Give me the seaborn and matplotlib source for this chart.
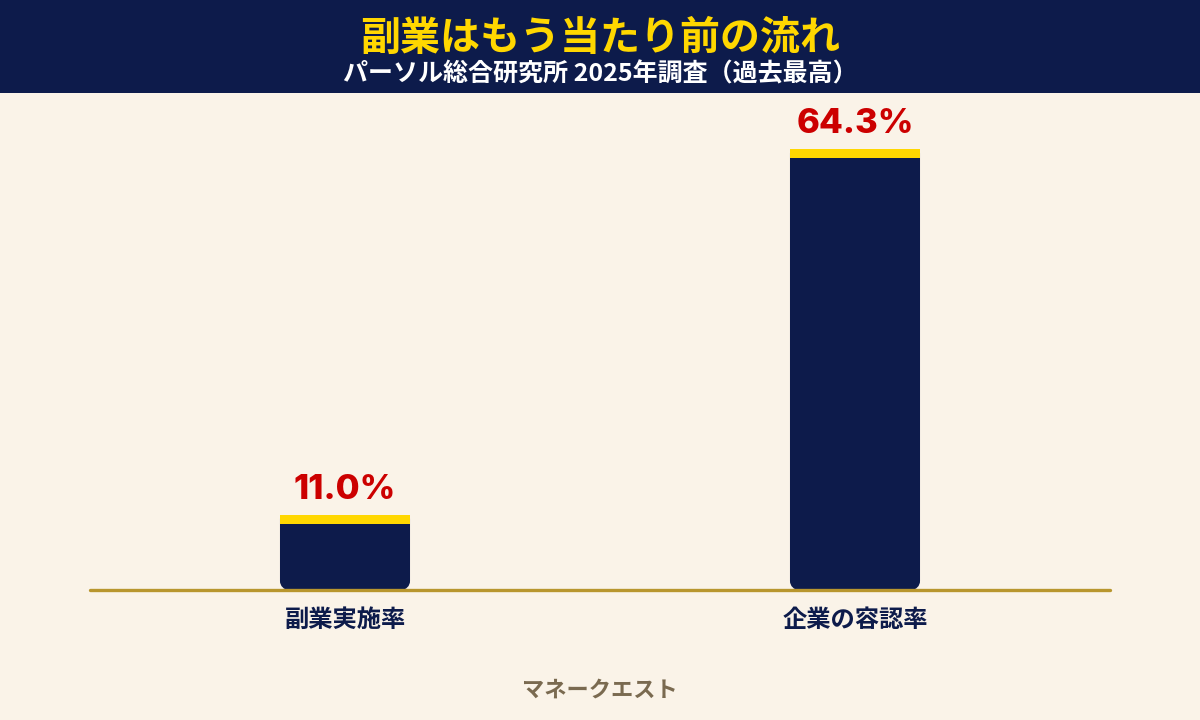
import matplotlib
matplotlib.use('Agg')
import matplotlib.pyplot as plt
import seaborn as sns
import pandas as pd
from matplotlib.path import Path
from matplotlib.patches import PathPatch, Rectangle

# データ
categories = ['副業実施率', '企業の容認率']
values = [11.0, 64.3]
value_labels = ['11.0%', '64.3%']

title = '副業はもう当たり前の流れ'
subtitle = 'パーソル総合研究所 2025年調査（過去最高）'
source = 'マネークエスト'

navy = '#0d1b4b'
yellow = '#ffd700'
bg = '#faf3e8'
red = '#cc0000'
gold = '#b8962e'
brown = '#7a6a50'

sns.set_theme(style='white')
plt.rcParams['font.family'] = ['Noto Sans CJK JP', 'DejaVu Sans']

df = pd.DataFrame({'category': categories, 'value': values})

fig = plt.figure(figsize=(12, 7.2), dpi=100, facecolor=bg)

# ヘッダー帯
fig.patches.append(Rectangle((0, 1 - 93 / 720), 1, 93 / 720, transform=fig.transFigure,
                             facecolor=navy, edgecolor='none', zorder=0))
fig.text(0.5, 1 - 38 / 720, title, ha='center', va='center', color=yellow,
         fontsize=28.8, fontweight='bold')
fig.text(0.5, 1 - 74 / 720, subtitle, ha='center', va='center', color='white',
         fontsize=18, fontweight='bold')

ax = fig.add_axes([90 / 1200, 130 / 720, 1020 / 1200, 480 / 720])
ax.set_facecolor(bg)
sns.barplot(data=df, x='category', y='value', color=navy, width=0.255, ax=ax,
            saturation=1)
ax.set_xlim(-0.5, 1.5)
ax.set_ylim(0, 70)

# 1ピクセルあたりのデータ量
px_x = 2.0 / 1020
px_y = 70.0 / 480
rx, ry = 9 * px_x, 9 * px_y
k = 0.5523

for p, lab in zip(list(ax.patches), value_labels):
    x0, w, h = p.get_x(), p.get_width(), p.get_height()
    x1 = x0 + w
    p.set_visible(False)
    top = h - 4 * px_y
    verts = [
        (x0, top), (x0, ry),
        (x0, ry * (1 - k)), (x0 + rx * (1 - k), 0), (x0 + rx, 0),
        (x1 - rx, 0),
        (x1 - rx * (1 - k), 0), (x1, ry * (1 - k)), (x1, ry),
        (x1, top), (x0, top),
    ]
    codes = [Path.MOVETO, Path.LINETO,
             Path.CURVE4, Path.CURVE4, Path.CURVE4,
             Path.LINETO,
             Path.CURVE4, Path.CURVE4, Path.CURVE4,
             Path.LINETO, Path.CLOSEPOLY]
    ax.add_patch(PathPatch(Path(verts, codes), facecolor=navy, edgecolor='none', zorder=2))
    ax.add_patch(Rectangle((x0, h - 9 * px_y), w, 9 * px_y, facecolor=yellow,
                           edgecolor='none', zorder=3))
    ax.text(x0 + w / 2, h + 9 * px_y, lab, ha='center', va='bottom', color=red,
            fontsize=25, fontweight='heavy', family=['Inter', 'DejaVu Sans'], zorder=4)

ax.axhline(0, color=gold, linewidth=2.4, zorder=5, clip_on=False)
sns.despine(ax=ax, left=True, bottom=True)
ax.set_yticks([])
ax.set_xlabel('')
ax.set_ylabel('')
ax.tick_params(axis='x', length=0, pad=13)
for t in ax.get_xticklabels():
    t.set_color(navy)
    t.set_fontsize(17.5)
    t.set_fontweight('bold')

fig.text(0.5, 1 - 690 / 720, source, ha='center', va='center', color=brown,
         fontsize=16, fontweight='bold')

fig.savefig('out.png', dpi=100, facecolor=bg)
